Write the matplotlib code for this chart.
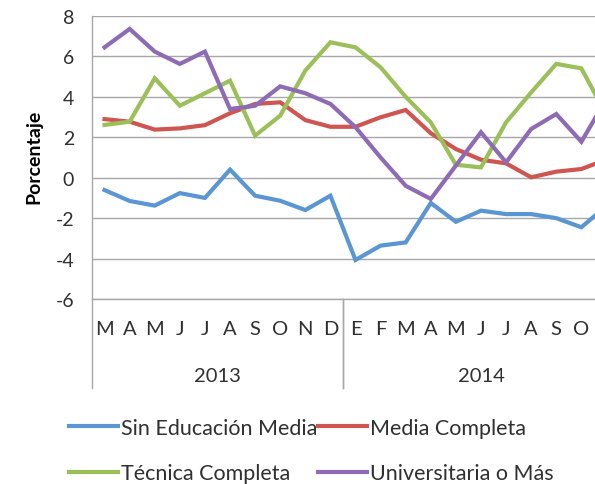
import matplotlib
matplotlib.use("Agg")
import matplotlib.pyplot as plt
from matplotlib.lines import Line2D
import matplotlib.transforms as mtransforms

plt.rcParams['font.family'] = ['Lato', 'DejaVu Sans']
plt.rcParams['axes.unicode_minus'] = False

# data
months = ["M", "A", "M", "J", "J", "A", "S", "O", "N", "D",
          "E", "F", "M", "A", "M", "J", "J", "A", "S", "O", "N"]
years = ["2013", "2014"]
year_spans = [(0, 9), (10, 20)]  # category index ranges per year

sin_educacion = [-0.61, -1.15, -1.38, -0.76, -1.0, 0.4, -0.89, -1.14, -1.6, -0.89,
                 -4.07, -3.36, -3.2, -1.25, -2.18, -1.63, -1.8, -1.8, -2.0, -2.45, -1.4]
media_completa = [2.9, 2.77, 2.38, 2.44, 2.6, 3.19, 3.65, 3.73, 2.85, 2.52,
                  2.52, 2.99, 3.35, 2.2, 1.42, 0.89, 0.71, 0.02, 0.3, 0.43, 0.9]
tecnica_completa = [2.61, 2.77, 4.92, 3.56, 4.18, 4.8, 2.08, 3.07, 5.3, 6.7,
                    6.45, 5.46, 4.0, 2.74, 0.64, 0.51, 2.74, 4.22, 5.63, 5.41, 3.1]
universitaria = [6.45, 7.36, 6.24, 5.63, 6.24, 3.4, 3.56, 4.52, 4.18, 3.65,
                 2.5, 1.0, -0.4, -1.05, 0.6, 2.25, 0.76, 2.41, 3.15, 1.78, 3.9]

series = [
    ("Sin Educación Media", sin_educacion, "#5A96D3"),
    ("Media Completa", media_completa, "#CF5550"),
    ("Técnica Completa", tecnica_completa, "#9BC05A"),
    ("Universitaria o Más", universitaria, "#8D6BB5"),
]

W, H = 595, 485
fig = plt.figure(figsize=(W / 100, H / 100), dpi=100)
# plot area runs past the right edge of the picture (cropped chart)
left, right, top, bottom = 92, 619, 17, 300
ax = fig.add_axes([left / W, 1 - bottom / H, (right - left) / W, (bottom - top) / H])

x = list(range(len(months)))
for name, vals, col in series:
    ax.plot(x, vals, color=col, lw=3.0, solid_joinstyle="miter", label=name)

ax.set_xlim(-0.5, len(months) - 0.5)
ax.set_ylim(-6, 8)
ax.set_yticks(range(-6, 9, 2))
ax.yaxis.grid(True, color="#a8a8a8", lw=1.0)
ax.set_axisbelow(True)
for s in ["top", "right"]:
    ax.spines[s].set_visible(False)
for s in ["left", "bottom"]:
    ax.spines[s].set_color("#a8a8a8")
    ax.spines[s].set_linewidth(1.0)

# the last month label falls outside the cropped picture, so it is not drawn
ax.set_xticks(x[:-1])
ax.set_xticklabels(months[:-1], fontsize=14.5, color="#303030")
ax.tick_params(axis="x", length=0, pad=15)
ax.tick_params(axis="y", length=0, pad=13, labelsize=14, labelcolor="#303030")
ax.set_ylabel("Porcentaje", fontsize=14, fontweight="bold")
ax.yaxis.set_label_coords(-50 / (right - left), 0.505)

# year group labels and separators
trans = mtransforms.blended_transform_factory(ax.transData, ax.transAxes)
sep_depth = (389 - bottom) / (bottom - top)
for yr, (a, b) in zip(years, year_spans):
    ax.text((a + b) / 2, -(76 / (bottom - top)), yr, transform=trans,
            ha="center", va="center", fontsize=14.5, color="#303030")
    for edge in (a - 0.5, b + 0.5):
        ax.plot([edge, edge], [0, -sep_depth], transform=trans, color="#a8a8a8",
                lw=1.0, clip_on=False)

# legend: two rows, two columns
handles = [Line2D([0], [0], color=c, lw=3.0) for _, _, c in series]
labels = [n for n, _, _ in series]
order = [0, 2, 1, 3]
fig.legend([handles[i] for i in order], [labels[i] for i in order],
           ncol=2, loc="upper left", bbox_to_anchor=(60 / W, 1 - 410 / H),
           frameon=False, fontsize=15.5, handlelength=2.3, handletextpad=0.15,
           columnspacing=0.0, labelspacing=1.2, labelcolor="#303030",
           borderaxespad=0.0)

fig.savefig("out.png", dpi=100)
